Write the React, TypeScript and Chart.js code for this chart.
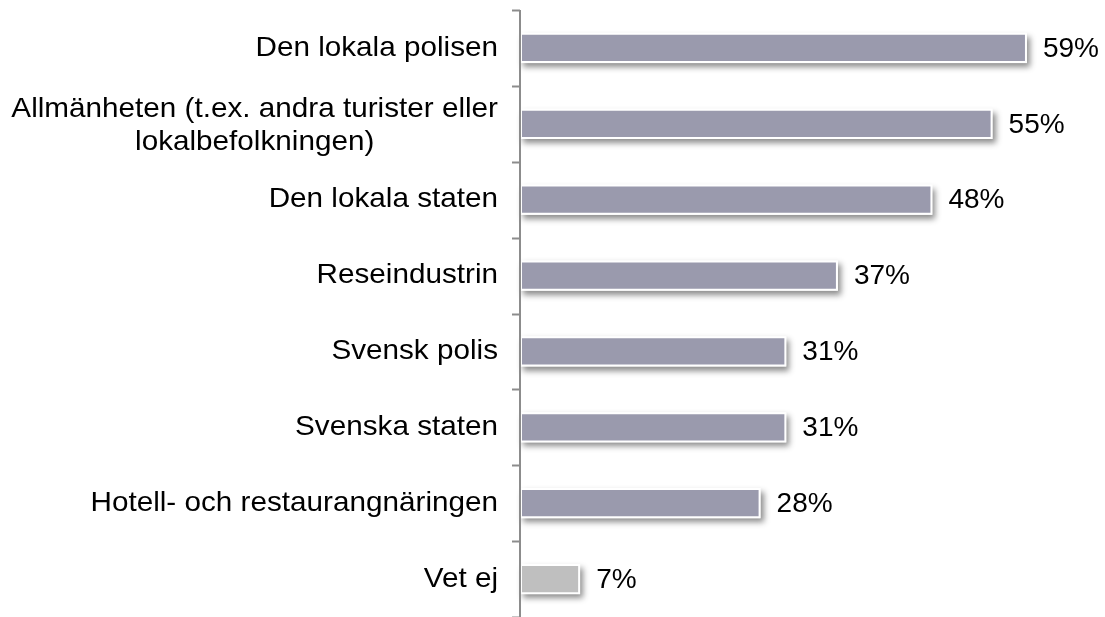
import React, { useEffect, useRef } from "react";
import { Chart, registerables } from "chart.js";

Chart.register(...registerables);

const categories: (string | string[])[] = [
  "Den lokala polisen",
  ["Allmänheten (t.ex. andra turister eller", "lokalbefolkningen)"],
  "Den lokala staten",
  "Reseindustrin",
  "Svensk polis",
  "Svenska staten",
  "Hotell- och restaurangnäringen",
  "Vet ej",
];
const values = [59, 55, 48, 37, 31, 31, 28, 7];
const barColors = ["#9a9aad", "#9a9aad", "#9a9aad", "#9a9aad", "#9a9aad", "#9a9aad", "#9a9aad", "#bfbfbf"];
const valueLabels = values.map((v) => v + "%");

const FONT = `28px "Liberation Sans", Arial, sans-serif`;
const VALUE_FONT = `28px "Liberation Sans", Arial, sans-serif`;

function stretchedText(ctx: CanvasRenderingContext2D, text: string, x: number, y: number, align: "left" | "right" | "center", sx: number) {
  ctx.save();
  ctx.translate(x, y);
  ctx.scale(sx, 1);
  ctx.textAlign = align;
  ctx.fillText(text, 0, 0);
  ctx.restore();
}

const decorPlugin = {
  id: "decor",
  beforeDatasetsDraw(chart: any) {
    const ctx: CanvasRenderingContext2D = chart.ctx;
    const meta = chart.getDatasetMeta(0);
    ctx.save();
    meta.data.forEach((bar: any) => {
      const { x, y, base, height } = bar.getProps(["x", "y", "base", "height"], true);
      ctx.shadowColor = "rgba(0,0,0,0.45)";
      ctx.shadowBlur = 6;
      ctx.shadowOffsetX = 3;
      ctx.shadowOffsetY = 4;
      ctx.fillStyle = "#ffffff";
      ctx.fillRect(base, y - height / 2, x - base, height);
    });
    ctx.restore();
  },
  afterDraw(chart: any) {
    const ctx: CanvasRenderingContext2D = chart.ctx;
    const area = chart.chartArea;
    const yScale = chart.scales.y;
    const n = categories.length;
    const step = (area.bottom - area.top) / n;
    ctx.save();
    ctx.strokeStyle = "#8c8c8c";
    ctx.lineWidth = 2;
    ctx.beginPath();
    ctx.moveTo(area.left, area.top);
    ctx.lineTo(area.left, area.bottom + 2);
    ctx.stroke();
    for (let i = 0; i <= n; i++) {
      const ty = Math.round(area.top + i * step) + 0.5;
      ctx.beginPath();
      ctx.moveTo(area.left - 8, ty);
      ctx.lineTo(area.left, ty);
      ctx.stroke();
    }
    ctx.fillStyle = "#000000";
    ctx.font = FONT;
    ctx.textBaseline = "middle";
    const sx = 1.06;
    const rightEdge = area.left - 22;
    const lineH = 33;
    categories.forEach((lab, i) => {
      const cy = yScale.getPixelForValue(i);
      const lines = Array.isArray(lab) ? lab : [lab];
      if (lines.length === 1) {
        stretchedText(ctx, lines[0], rightEdge, cy, "right", sx);
      } else {
        const maxW = Math.max(...lines.map((l) => ctx.measureText(l).width)) * sx;
        const cx = rightEdge - maxW / 2;
        lines.forEach((l, j) => {
          const ly = cy + 2 + (j - (lines.length - 1) / 2) * lineH;
          stretchedText(ctx, l, cx, ly, "center", sx);
        });
      }
    });
    ctx.font = VALUE_FONT;
    const meta = chart.getDatasetMeta(0);
    meta.data.forEach((bar: any, i: number) => {
      const { x, y } = bar.getProps(["x", "y"], true);
      stretchedText(ctx, valueLabels[i], x + 16, y + 1, "left", 1.0);
    });
    ctx.restore();
  },
};

export default function App() {
  const ref = useRef<HTMLCanvasElement | null>(null);
  useEffect(() => {
    document.body.style.margin = "0";
    const canvas = ref.current!;
    const chart = new Chart(canvas, {
      type: "bar",
      data: {
        labels: categories.map((c) => (Array.isArray(c) ? c.join(" ") : c)),
        datasets: [
          {
            data: values,
            backgroundColor: barColors,
            borderColor: "#ffffff",
            borderWidth: 2,
            borderSkipped: false,
            barPercentage: 0.4,
            categoryPercentage: 1,
          },
        ],
      },
      options: {
        indexAxis: "y",
        responsive: false,
        animation: false,
        devicePixelRatio: 1,
        layout: { padding: { left: 520, right: 5, top: 10, bottom: 0 } },
        plugins: { legend: { display: false }, tooltip: { enabled: false } },
        scales: {
          x: { display: false, min: 0, max: 67.5 },
          y: { display: false, offset: true },
        },
      },
      plugins: [decorPlugin],
    });
    return () => chart.destroy();
  }, []);
  return <canvas ref={ref} width={1105} height={617} style={{ display: "block" }} />;
}
